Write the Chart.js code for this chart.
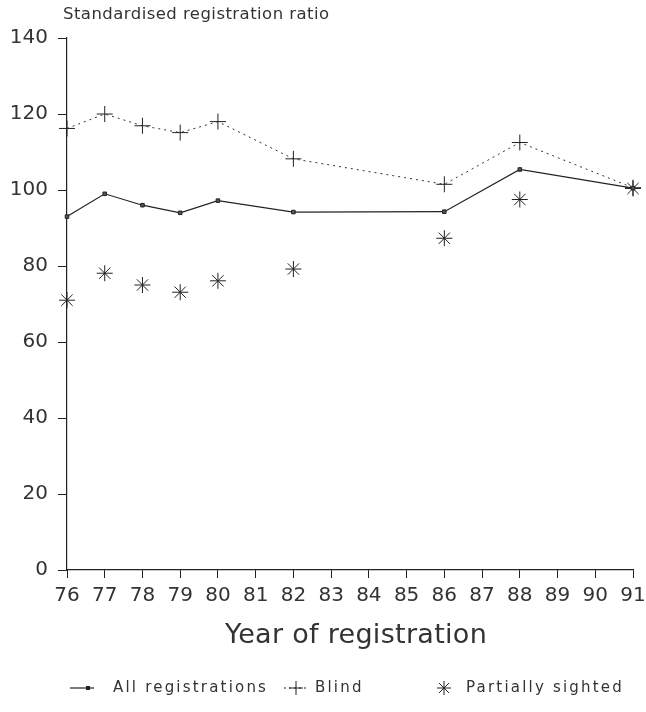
<!DOCTYPE html>
<html>
<head>
<meta charset="utf-8">
<script src="https://cdn.jsdelivr.net/npm/chart.js@4"></script>
<style>
html,body{margin:0;padding:0;background:#fff;}
#wrap{width:646px;height:712px;position:relative;}
</style>
</head>
<body>
<div id="wrap"><canvas id="c" width="646" height="712"></canvas></div>
<script>
const years = [76, 77, 78, 79, 80, 82, 86, 88, 91];
const allRegistrations = [93, 99, 96, 94, 97.2, 94.2, 94.3, 105.4, 100.5];
const blind = [116.2, 120, 116.9, 115.1, 118, 108.2, 101.5, 112.5, 100.6];
const partiallySighted = [71, 78.1, 75, 73.1, 76.1, 79.2, 87.3, 97.5, 100.4];
const xTicks = [76, 77, 78, 79, 80, 81, 82, 83, 84, 85, 86, 87, 88, 89, 90, 91];
const yTicks = [0, 20, 40, 60, 80, 100, 120, 140];
const seriesLabels = ['All registrations', 'Blind', 'Partially sighted'];
const yTitle = 'Standardised registration ratio';
const xTitle = 'Year of registration';

const INK = '#222';
const TXT = '#333';
const FONT = '"DejaVu Sans", sans-serif';

function pts(vals){ return years.map((x,i)=>({x:x,y:vals[i]})); }

const textPlugin = {
  id:'texts',
  afterDraw(chart){
    const ctx = chart.ctx;
    ctx.save();
    ctx.fillStyle = TXT;
    ctx.textBaseline = 'middle';
    ctx.textAlign = 'left';
    ctx.font = '16.5px ' + FONT;
    ctx.letterSpacing = '0.45px';
    ctx.fillText(yTitle, 63, 15);
    ctx.textAlign = 'center';
    ctx.font = '27px ' + FONT;
    ctx.letterSpacing = '0.3px';
    ctx.fillText(xTitle, 356, 636);
    // legend
    const ly = 688;
    ctx.font = '15px ' + FONT;
    ctx.letterSpacing = '2.2px';
    ctx.textAlign = 'left';
    // All registrations
    ctx.strokeStyle = INK; ctx.lineWidth = 1.2; ctx.setLineDash([]);
    ctx.beginPath(); ctx.moveTo(70, ly); ctx.lineTo(94, ly); ctx.stroke();
    ctx.fillStyle = INK; ctx.fillRect(86, ly-2, 4, 4);
    ctx.fillStyle = TXT; ctx.fillText(seriesLabels[0], 113, ly);
    // Blind
    ctx.strokeStyle = INK; ctx.lineWidth = 1; ctx.setLineDash([2,3]);
    ctx.beginPath(); ctx.moveTo(284, ly); ctx.lineTo(308, ly); ctx.stroke();
    ctx.setLineDash([]);
    ctx.beginPath(); ctx.moveTo(289, ly); ctx.lineTo(303, ly); ctx.moveTo(296, ly-7); ctx.lineTo(296, ly+7); ctx.stroke();
    ctx.fillStyle = TXT; ctx.fillText(seriesLabels[1], 315, ly);
    // Partially sighted
    const sx = 444, r = 7;
    ctx.beginPath();
    for (let k=0;k<4;k++){ const a = k*Math.PI/4; ctx.moveTo(sx-r*Math.cos(a), ly-r*Math.sin(a)); ctx.lineTo(sx+r*Math.cos(a), ly+r*Math.sin(a)); }
    ctx.stroke();
    ctx.fillStyle = TXT; ctx.fillText(seriesLabels[2], 466, ly);
    ctx.restore();
  }
};

new Chart(document.getElementById('c'), {
  type:'line',
  data:{
    datasets:[
      {label:seriesLabels[0], data:pts(allRegistrations), borderColor:INK, borderWidth:1.2, clip:false,
       pointStyle:'rect', pointRadius:2.5, pointBackgroundColor:'#555', pointBorderColor:INK, pointBorderWidth:1, tension:0},
      {label:seriesLabels[1], data:pts(blind), borderColor:'#333', borderWidth:1, borderDash:[2,4], clip:false,
       pointStyle:'cross', pointRadius:8, pointBorderColor:INK, pointBorderWidth:1, tension:0},
      {label:seriesLabels[2], data:pts(partiallySighted), showLine:false, borderColor:INK, clip:false,
       pointStyle:'star', pointRadius:8, pointBorderColor:INK, pointBorderWidth:1}
    ]
  },
  options:{
    responsive:false, animation:false,
    layout:{padding:{top:38, right:0, left:0, bottom:0}},
    plugins:{legend:{display:false}, tooltip:{enabled:false}, title:{display:false}},
    scales:{
      x:{type:'linear', min:76, max:91,
        afterBuildTicks(s){ s.ticks = xTicks.map(v=>({value:v})); },
        afterFit(s){ s.height = 142; s.paddingRight = 13; s.paddingLeft = 0; },
        grid:{drawOnChartArea:false, drawTicks:true, tickLength:8, color:INK, lineWidth:1},
        border:{display:true, color:INK, width:1.2},
        ticks:{color:TXT, font:{family:FONT, size:20}, padding:6, maxRotation:0, autoSkip:false}
      },
      y:{type:'linear', min:0, max:140,
        afterBuildTicks(s){ s.ticks = yTicks.map(v=>({value:v})); },
        afterFit(s){ s.width = 67; },
        grid:{drawOnChartArea:false, drawTicks:true, tickLength:9, color:INK, lineWidth:1},
        border:{display:true, color:INK, width:1.2},
        ticks:{color:TXT, font:{family:FONT, size:20}, padding:10}
      }
    }
  },
  plugins:[textPlugin]
});
</script>
</body>
</html>
